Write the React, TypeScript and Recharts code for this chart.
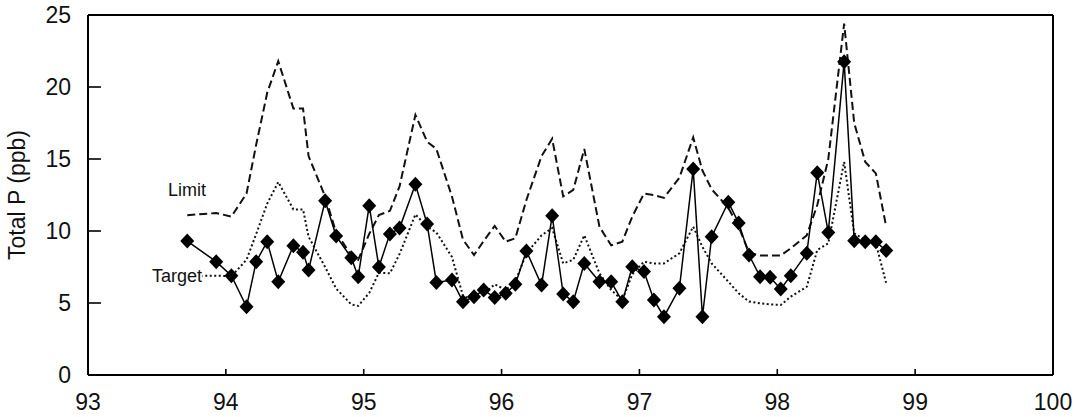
import { LineChart, Line, XAxis, YAxis, ReferenceLine, ReferenceDot } from 'recharts';

// sample dates (decimal year, 93 = 1993)
const dates = [
  93.72, 93.93, 94.04, 94.15, 94.22, 94.3, 94.38, 94.49, 94.56, 94.6,
  94.72, 94.8, 94.91, 94.96, 95.04, 95.11, 95.19, 95.26, 95.375, 95.46,
  95.527, 95.64, 95.72, 95.8, 95.87, 95.95, 96.03, 96.1, 96.18, 96.29,
  96.367, 96.447, 96.52, 96.6, 96.71, 96.795, 96.876, 96.948, 97.033, 97.105,
  97.178, 97.29, 97.39, 97.457, 97.524, 97.645, 97.72, 97.795, 97.875, 97.948,
  98.025, 98.098, 98.214, 98.29, 98.37, 98.485, 98.558, 98.638, 98.715, 98.79,
];

const totalP = [
  9.3, 7.87, 6.9, 4.74, 7.87, 9.26, 6.48, 8.98, 8.52, 7.29,
  12.1, 9.65, 8.15, 6.83, 11.76, 7.5, 9.8, 10.2, 13.24, 10.49,
  6.43, 6.6, 5.09, 5.44, 5.9, 5.39, 5.67, 6.3, 8.61, 6.25,
  11.06, 5.63, 5.09, 7.75, 6.48, 6.48, 5.09, 7.52, 7.18, 5.21,
  4.05, 6.02, 14.3, 4.05, 9.6, 12.0, 10.55, 8.33, 6.83, 6.78,
  5.97, 6.9, 8.45, 14.05, 9.9, 21.76, 9.33, 9.26, 9.26, 8.64,
];

const limit = [
  11.1, 11.25, 11.0, 12.6, 16.0, 19.6, 21.8, 18.5, 18.5, 15.2,
  12.4, 9.9, 8.3, 8.0, 9.8, 11.1, 11.4, 13.1, 18.06, 16.2,
  15.7, 12.4, 9.4, 8.33, 9.3, 10.35, 9.26, 9.5, 12.15, 15.2,
  16.4, 12.4, 12.85, 15.7, 10.3, 9.0, 9.26, 11.0, 12.6, 12.5,
  12.3, 13.7, 16.5, 14.2, 12.9, 11.6, 10.3, 8.5, 8.3, 8.3,
  8.3, 8.8, 9.7, 11.8, 15.0, 24.4, 17.5, 14.8, 14.0, 10.3,
];

const target = [
  6.9, 6.9, 6.85, 8.0, 9.8, 11.9, 13.4, 11.5, 11.5, 9.6,
  7.5, 6.0, 4.9, 4.8, 5.7, 7.1, 7.06, 8.4, 11.15, 10.3,
  9.9, 8.2, 5.5, 5.2, 5.6, 6.3, 5.9, 6.5, 8.45, 9.7,
  10.2, 7.75, 8.0, 9.7, 7.06, 5.9, 5.2, 7.0, 7.87, 7.75,
  7.75, 8.45, 10.3, 8.9, 7.75, 6.48, 5.67, 5.1, 4.98, 4.9,
  4.86, 5.44, 6.13, 8.68, 9.14, 14.8, 9.84, 9.37, 9.14, 6.37,
];

const xTicks = [93, 94, 95, 96, 97, 98, 99, 100];
const yTicks = [0, 5, 10, 15, 20, 25];

const data = dates.map((x, i) => ({ x, p: totalP[i], limit: limit[i], target: target[i] }));

const FONT = '"Liberation Sans", Arial, sans-serif';
const X_MIN = 93;
const Y_MIN = 0;
// inward tick lengths, in axis units (about 13px and 6px)
const Y_TICK_LEN = 0.094;
const X_TICK_LEN = 0.42;

function XTick(props: any) {
  return (
    <text x={props.x} y={props.y} dy="0.72em" textAnchor="middle" fontSize={23} fontFamily={FONT} fill="#111">
      {props.payload.value}
    </text>
  );
}

function YTick(props: any) {
  return (
    <text x={props.x} y={props.y} dy="0.36em" textAnchor="end" fontSize={23} fontFamily={FONT} fill="#111">
      {props.payload.value}
    </text>
  );
}

function Diamond({ cx, cy }: any) {
  if (cx == null || cy == null) return null;
  return (
    <polygon
      points={`${cx},${cy - 7.5} ${cx + 7},${cy} ${cx},${cy + 7.5} ${cx - 7},${cy}`}
      fill="#000"
    />
  );
}

function SeriesLabel({ viewBox, value, halo }: any) {
  const cx = viewBox.x + (viewBox.width || 0) / 2;
  const cy = viewBox.y + (viewBox.height || 0) / 2;
  return (
    <text
      x={cx}
      y={cy}
      dy="0.36em"
      textAnchor="middle"
      fontSize={18}
      fontFamily={FONT}
      fill="#111"
      stroke={halo ? '#fff' : 'none'}
      strokeWidth={halo ? 4 : 0}
      paintOrder="stroke"
    >
      {value}
    </text>
  );
}

export default function App() {
  return (
    <div style={{ position: 'absolute', left: 0, top: 0, background: '#fff' }}>
      <LineChart
        width={1077}
        height={417}
        data={data}
        margin={{ top: 15, right: 24, bottom: 12, left: 28 }}
      >
        <XAxis
          type="number"
          dataKey="x"
          domain={[93, 100]}
          ticks={xTicks}
          allowDataOverflow
          height={30}
          tickSize={0}
          tickMargin={18}
          tickLine={false}
          axisLine={{ stroke: '#000', strokeWidth: 2 }}
          tick={<XTick />}
        />
        <YAxis
          type="number"
          domain={[0, 25]}
          ticks={yTicks}
          allowDataOverflow
          width={60}
          tickSize={0}
          tickMargin={17}
          tickLine={false}
          axisLine={{ stroke: '#000', strokeWidth: 2 }}
          tick={<YTick />}
          label={{
            value: 'Total P (ppb)',
            angle: -90,
            position: 'insideLeft',
            offset: -11,
            style: { fontSize: 23, fontFamily: FONT, fill: '#111', textAnchor: 'middle' },
          }}
        />
        <ReferenceLine y={25} stroke="#000" strokeWidth={2} />
        <ReferenceLine x={100} stroke="#000" strokeWidth={2} />
        {yTicks.slice(1, -1).map((v) => (
          <ReferenceLine
            key={`yt${v}`}
            segment={[{ x: X_MIN, y: v }, { x: X_MIN + Y_TICK_LEN, y: v }]}
            stroke="#000"
            strokeWidth={1.6}
          />
        ))}
        {xTicks.slice(1, -1).map((v) => (
          <ReferenceLine
            key={`xt${v}`}
            segment={[{ x: v, y: Y_MIN }, { x: v, y: Y_MIN + X_TICK_LEN }]}
            stroke="#000"
            strokeWidth={1.6}
          />
        ))}
        <Line
          type="linear"
          dataKey="target"
          stroke="#111"
          strokeWidth={2}
          strokeDasharray="2 2.5"
          dot={false}
          isAnimationActive={false}
        />
        <Line
          type="linear"
          dataKey="limit"
          stroke="#111"
          strokeWidth={2}
          strokeDasharray="8 4"
          dot={false}
          isAnimationActive={false}
        />
        <Line
          type="linear"
          dataKey="p"
          stroke="#000"
          strokeWidth={1.5}
          dot={<Diamond />}
          isAnimationActive={false}
        />
        <ReferenceDot
          x={93.718}
          y={12.85}
          r={0}
          fill="none"
          stroke="none"
          label={<SeriesLabel value="Limit" />}
        />
        <ReferenceDot
          x={93.646}
          y={6.94}
          r={0}
          fill="none"
          stroke="none"
          label={<SeriesLabel value="Target" halo />}
        />
      </LineChart>
    </div>
  );
}
